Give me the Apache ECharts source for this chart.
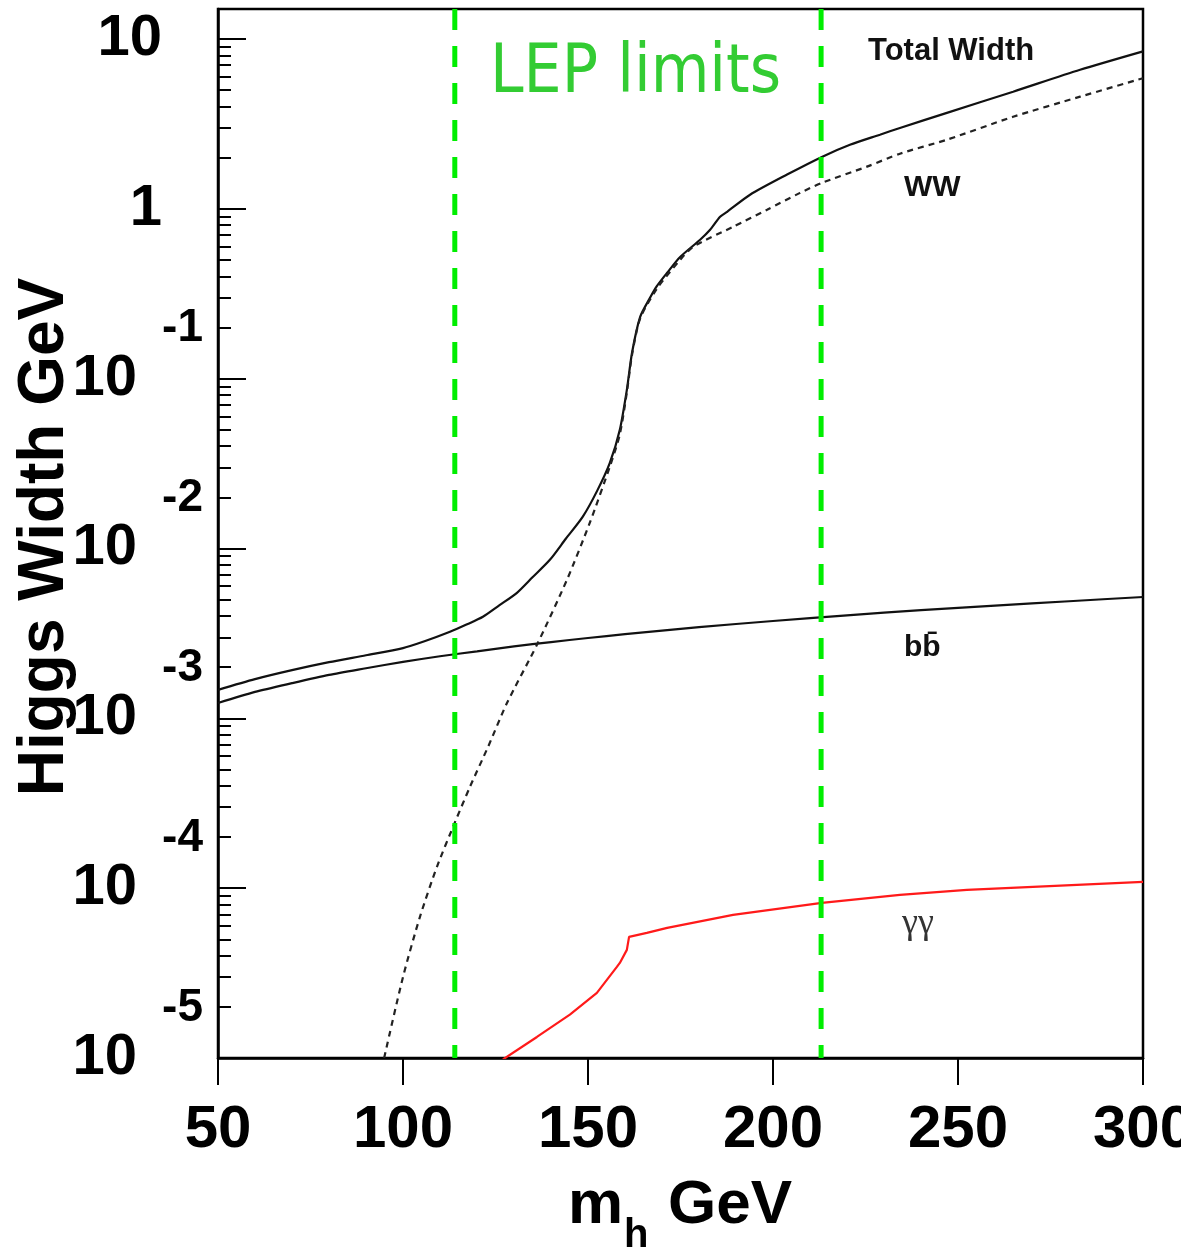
<!DOCTYPE html>
<html><head><meta charset="utf-8">
<script src="https://cdn.jsdelivr.net/npm/echarts@6/dist/echarts.min.js"></script>
<style>html,body{margin:0;padding:0;background:#fff}#c{width:1181px;height:1252px}</style>
</head><body><div id="c"></div>
<script>
// ---- data ----
const totalMh = [50,60,70,80,90,100,106,112.7,117,121.6,126,130.8,135,139.7,144,148.6,152.5,155.9,158.6,160.5,161.9,164.1,166.8,168.6,171.4,174.9,180.3,183,185.7,187.6,193.8,203.8,213.2,220.8,228.9,234.3,247,264.9,283,300];
const totalW = [1.47e-3,1.70e-3,1.92e-3,2.14e-3,2.35e-3,2.59e-3,2.85e-3,3.23e-3,3.55e-3,3.96e-3,4.62e-3,5.48e-3,6.76e-3,8.57e-3,1.14e-2,1.54e-2,2.19e-2,3.19e-2,5.00e-2,8.59e-2,0.142,0.231,0.30,0.35,0.42,0.52,0.657,0.752,0.897,0.96,1.21,1.59,2.02,2.38,2.73,2.99,3.67,4.89,6.58,8.45];

const wwMh = [94.9,100,104.6,109.2,114,118.1,123,128.1,136.2,144.3,150.5,155.9,158.6,160.5,161.9,164.1,168.6,174.9,178.4,189.2,198.4,207.3,213.2,225.4,234.3,247,264.9,283,300];
const wwW = [1.0e-5,3.0e-5,6.8e-5,1.34e-4,2.43e-4,3.95e-4,6.8e-4,1.23e-3,2.71e-3,6.53e-3,1.42e-2,3.03e-2,4.7e-2,8.3e-2,0.138,0.226,0.338,0.50,0.597,0.783,0.987,1.24,1.42,1.77,2.11,2.55,3.48,4.57,5.87];

const bbMh = [50,60,70,80,90,100,110,120,130,140,150,160,180,200,220,240,260,280,300];
const bbW = [1.23e-3,1.43e-3,1.61e-3,1.80e-3,1.97e-3,2.15e-3,2.32e-3,2.48e-3,2.65e-3,2.81e-3,2.97e-3,3.13e-3,3.44e-3,3.74e-3,4.04e-3,4.33e-3,4.61e-3,4.89e-3,5.18e-3];

const gamMh = [127,136.2,145.1,152.4,157.8,158.6,160.5,161.1,165.9,171.4,189.2,213.2,234.3,252.4,300];
const gamW = [9.8e-6,1.33e-5,1.80e-5,2.42e-5,3.44e-5,3.63e-5,4.33e-5,5.17e-5,5.45e-5,5.84e-5,6.96e-5,8.20e-5,9.14e-5,9.78e-5,1.09e-4];

const lepLimits = [114, 213];

const xTicks = [50,100,150,200,250,300];
const yMajorTicks = [1e-5,1e-4,1e-3,1e-2,1e-1,1,10];
const yMajorExp = ['-5','-4','-3','-2','-1','0','1'];
const yMin = 1e-5, yMax = 15;
const yMinorTicks = [];
for (let k = -5; k <= 0; k++) for (let m = 2; m <= 9; m++) yMinorTicks.push(+(m * Math.pow(10, k)).toPrecision(3));

// ---- chart ----
const FONT = '"Liberation Sans", Arial, Helvetica, sans-serif';
const chart = echarts.init(document.getElementById('c'), null, {renderer: 'canvas'});
const pairs = (xs, ys) => xs.map((x, i) => [x, ys[i]]);

function yLabel(v) {
  let idx = 0, best = 1e9;
  yMajorTicks.forEach((t, i) => { const d = Math.abs(Math.log10(t) - Math.log10(v)); if (d < best) { best = d; idx = i; } });
  const e = yMajorExp[idx];
  if (e === '1') return '{b|10}';
  if (e === '0') return '{b|1}';
  return '{e|' + e + '}\n{c|10}\n{s| }';
}

const option = {
  animation: false,
  backgroundColor: '#fff',
  grid: {left: 218, right: 38, top: 9, bottom: 194, show: true, borderColor: '#000', borderWidth: 2.5, containLabel: false, outerBoundsMode: 'none'},
  xAxis: {
    type: 'value', min: 50, max: 300, interval: 50,
    axisLine: {show: true, onZero: false, lineStyle: {color: '#000', width: 2.5}},
    axisTick: {show: true, inside: false, length: 27, lineStyle: {color: '#000', width: 2}, customValues: xTicks},
    axisLabel: {show: true, customValues: xTicks, margin: 42, color: '#000', fontFamily: FONT, fontWeight: 'bold', fontSize: 60},
    splitLine: {show: false}
  },
  yAxis: [{
    type: 'log', logBase: 10, min: yMin, max: yMax,
    axisLine: {show: true, onZero: false, lineStyle: {color: '#000', width: 2.5}},
    axisTick: {show: true, inside: true, length: 28, lineStyle: {color: '#000', width: 2}, customValues: yMajorTicks},
    axisLabel: {
      show: true, customValues: yMajorTicks, margin: 15, align: 'right',
      formatter: yLabel,
      rich: {
        b: {fontFamily: FONT, fontWeight: 'bold', fontSize: 58, color: '#000', align: 'right', padding: [0, 41, 0, 0], lineHeight: 58},
        c: {fontFamily: FONT, fontWeight: 'bold', fontSize: 58, color: '#000', align: 'right', padding: [0, 66, 0, 0], lineHeight: 50},
        e: {fontFamily: FONT, fontWeight: 'bold', fontSize: 46, color: '#000', align: 'right', lineHeight: 50},
        s: {fontSize: 10, lineHeight: 50, align: 'right'}
      }
    },
    splitLine: {show: false}, minorTick: {show: false}
  }, {
    type: 'log', logBase: 10, min: yMin, max: yMax, position: 'left',
    axisLine: {show: false},
    axisTick: {show: true, inside: true, length: 13, lineStyle: {color: '#000', width: 2}, customValues: yMinorTicks},
    axisLabel: {show: false},
    splitLine: {show: false}
  }],
  series: [
    {name: 'bb', type: 'line', data: pairs(bbMh, bbW), showSymbol: false, symbol: 'none',
     smooth: 0.25, lineStyle: {color: '#111', width: 2.2}, z: 3},
    {name: 'Total Width', type: 'line', data: pairs(totalMh, totalW), showSymbol: false, symbol: 'none',
     smooth: 0.25, lineStyle: {color: '#111', width: 2.2}, z: 3},
    {name: 'WW', type: 'line', data: pairs(wwMh, wwW), showSymbol: false, symbol: 'none',
     smooth: 0.25, lineStyle: {color: '#222', width: 2.2, type: [6, 5]}, z: 3},
    {name: 'gamgam', type: 'line', data: pairs(gamMh, gamW), showSymbol: false, symbol: 'none',
     lineStyle: {color: '#ff1a1a', width: 2.2}, z: 3},
    ...lepLimits.map(m => ({
      name: 'LEP ' + m, type: 'line', data: [[m, yMax], [m, yMin]], showSymbol: false, symbol: 'none',
      lineStyle: {color: '#00ee00', width: 5, type: [21, 16]}, z: 5
    }))
  ],
  graphic: [
    {type: 'text', x: 490, y: 75, z: 10, style: {text: 'LEP limits', fill: '#33cc33', font: '67px "DejaVu Sans Condensed", "DejaVu Sans", sans-serif', textAlign: 'left', textVerticalAlign: 'middle'}},
    {type: 'text', x: 868, y: 51, z: 10, style: {text: 'Total Width', fill: '#111', font: 'bold 31px ' + FONT, textAlign: 'left', textVerticalAlign: 'middle'}},
    {type: 'text', x: 904, y: 188, z: 10, style: {text: 'WW', fill: '#111', font: 'bold 30px ' + FONT, textAlign: 'left', textVerticalAlign: 'middle'}},
    {type: 'text', x: 904, y: 648, z: 10, style: {text: 'bb\u0304', fill: '#111', font: 'bold 30px ' + FONT, textAlign: 'left', textVerticalAlign: 'middle'}},
    {type: 'text', x: 902, y: 924, z: 10, style: {text: '\u03b3\u03b3', fill: '#333', font: '36px "Liberation Serif", "DejaVu Serif", serif', textAlign: 'left', textVerticalAlign: 'middle'}},
    {type: 'text', x: 45, y: 537, rotation: Math.PI / 2, z: 10, style: {text: 'Higgs Width GeV', fill: '#000', font: 'bold 64px ' + FONT, textAlign: 'center', textVerticalAlign: 'middle'}},
    {type: 'text', x: 568, y: 1206, z: 10, style: {text: 'm', fill: '#000', font: 'bold 62px ' + FONT, textAlign: 'left', textVerticalAlign: 'middle'}},
    {type: 'text', x: 624, y: 1236, z: 10, style: {text: 'h', fill: '#000', font: 'bold 40px ' + FONT, textAlign: 'left', textVerticalAlign: 'middle'}},
    {type: 'text', x: 668, y: 1206, z: 10, style: {text: 'GeV', fill: '#000', font: 'bold 62px ' + FONT, textAlign: 'left', textVerticalAlign: 'middle'}}
  ]
};
chart.setOption(option);
</script>
</body></html>
